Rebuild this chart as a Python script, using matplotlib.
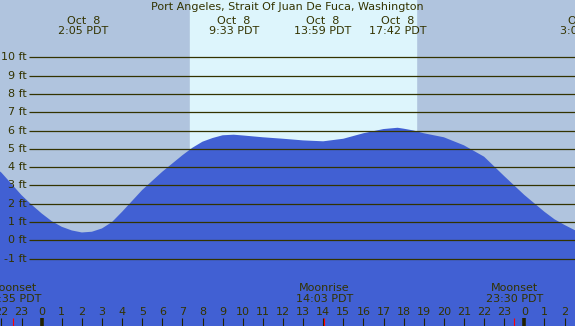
import matplotlib
matplotlib.use("Agg")
import matplotlib.pyplot as plt

# tide height (ft), hour 0 = midnight Oct 8
hours = [-3, -2, -1, -0.5, 0, 0.5, 1, 1.5, 2, 2.5, 3, 3.5, 4, 5, 6, 7, 7.5, 8, 8.5, 9, 9.55,
         10, 11, 12, 13, 14, 15, 16, 17, 17.7, 18, 18.5, 19, 20, 21, 22, 23, 24, 25, 25.5,
         26, 26.5, 27]
heights = [4.6, 3.7, 2.47, 1.95, 1.47, 1.05, 0.74, 0.54, 0.43, 0.47, 0.65, 1.0, 1.56, 2.75,
           3.75, 4.65, 5.06, 5.39, 5.59, 5.74, 5.77, 5.73, 5.63, 5.55, 5.46, 5.41, 5.55, 5.85,
           6.08, 6.15, 6.1, 6.0, 5.85, 5.63, 5.19, 4.57, 3.51, 2.48, 1.56, 1.15, 0.84, 0.56,
           0.45]

title = "Port Angeles, Strait Of Juan De Fuca, Washington"
event_hours = [2.083, 9.55, 13.983, 17.7, 27.0]
event_labels = ["Oct  8\n2:05 PDT", "Oct  8\n9:33 PDT", "Oct  8\n13:59 PDT",
                "Oct  8\n17:42 PDT", "Oct  9\n3:03 PDT"]

moon_hours = [-1.417, 14.05, 23.5]
moon_labels = ["Moonset\n22:35 PDT", "Moonrise\n14:03 PDT", "Moonset\n23:30 PDT"]

sunrise, sunset = 7.37, 18.61
levels = list(range(-1, 11))
tick_hours = list(range(-2, 27))

night = "#B0C4DE"
day = "#DDF5FC"
water = "#4160D3"
ink = "#333300"

fig = plt.figure(figsize=(5.75, 3.26), dpi=100)
ax = fig.add_axes([0, 0, 1, 1])
x0, x1 = -2.07, 26.52
y0, y1 = -4.68, 13.13
ax.set_xlim(x0, x1)
ax.set_ylim(y0, y1)
ax.axis("off")
fig.patch.set_facecolor(night)

ax.axvspan(sunrise, sunset, color=day, zorder=0)
ax.fill_between(hours, heights, y0, color=water, lw=0, zorder=1)

ax.hlines(levels, x0 + 29.3 / 575 * (x1 - x0), x1, color=ink, lw=0.9, zorder=2)
for lv in levels:
    ax.text(0.047, lv, f"{lv} ft", transform=ax.get_yaxis_transform(),
            ha="right", va="center", fontsize=8, color=ink, zorder=3)

ax.text(0.5, 1 - 7.5 / 326, title, transform=ax.transAxes, ha="center", va="center",
        fontsize=8, color=ink)
tr = ax.get_xaxis_transform()
for h, lab in zip(event_hours, event_labels):
    ax.text(h, 1 - 26 / 326, lab, transform=tr, ha="center",
            va="center", fontsize=8, color=ink, linespacing=1.05)

for h, lab in zip(moon_hours, moon_labels):
    ax.text(h, 1 - 293.5 / 326, lab, transform=tr, ha="center",
            va="center", fontsize=8, color=ink, linespacing=1.05)

for h in tick_hours:
    ax.text(h, 1 - 312 / 326, str(h % 24), transform=tr, ha="center", va="center",
            fontsize=8, color=ink)
    lw = 2.6 if h % 24 == 0 else 0.8
    ax.vlines(h, 0, 8 / 326, transform=tr, color="#222200", lw=lw, zorder=4)
ax.vlines(moon_hours, 0, 8 / 326, transform=tr, color="red", lw=0.8, zorder=4)

fig.savefig("out.png", dpi=100, facecolor=night)
